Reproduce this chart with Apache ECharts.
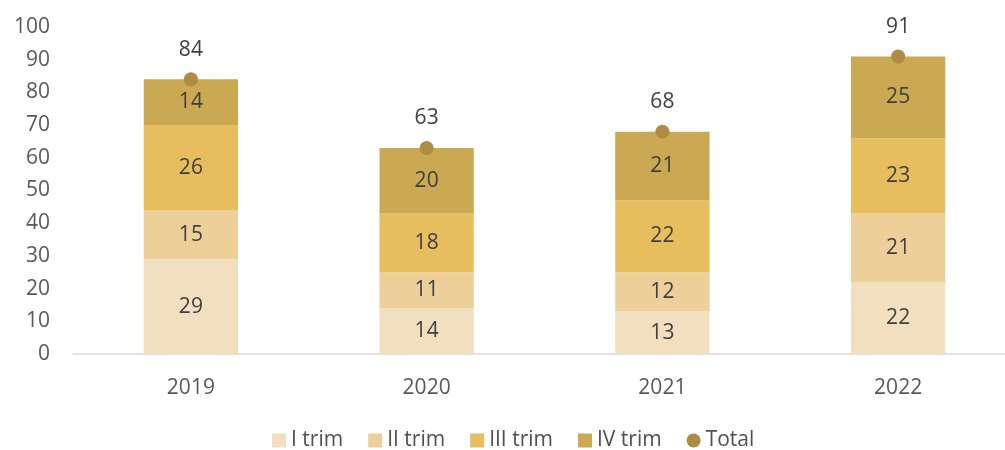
<!DOCTYPE html>
<html>
<head>
<meta charset="utf-8">
<script src="https://cdn.jsdelivr.net/npm/echarts@6/dist/echarts.min.js"></script>
<style>
  html, body { margin: 0; padding: 0; background: #fff; }
  #chart { width: 1005px; height: 450px; }
</style>
</head>
<body>
<div id="chart"></div>
<script>
const years = ['2019', '2020', '2021', '2022']
const trimI = [29, 14, 13, 22]
const trimII = [15, 11, 12, 21]
const trimIII = [26, 18, 22, 23]
const trimIV = [14, 20, 21, 25]
const totals = [84, 63, 68, 91]

const font = '"Open Sans", "Noto Sans", sans-serif'

// bar segment with value label inside
function barSeries(name, data, color) {
  return {
    name: name,
    type: 'bar',
    stack: 'total',
    barWidth: '40%',
    data: data,
    itemStyle: { color: color },
    label: {
      show: true,
      position: 'inside',
      color: '#404040',
      fontSize: 21,
      fontFamily: font
    }
  }
}

const myChart = echarts.init(document.getElementById('chart'))
myChart.setOption({
  animation: false,
  textStyle: { fontFamily: font },
  grid: {
    left: 73,
    right: -11,
    top: 27,
    bottom: 96,
    containLabel: false,
    outerBoundsMode: 'none'
  },
  legend: {
    top: 425,
    left: 267,
    itemWidth: 14,
    itemHeight: 14,
    itemGap: 25,
    textStyle: { color: '#505050', fontSize: 21, fontFamily: font },
    data: [
      { name: 'I trim', icon: 'rect' },
      { name: 'II trim', icon: 'rect' },
      { name: 'III trim', icon: 'rect' },
      { name: 'IV trim', icon: 'rect' },
      { name: 'Total', icon: 'circle' }
    ]
  },
  xAxis: {
    type: 'category',
    data: years,
    axisLine: { lineStyle: { color: '#d9d9d9', width: 1.5 } },
    axisTick: { show: false },
    axisLabel: { color: '#595959', fontSize: 21, margin: 24 }
  },
  yAxis: {
    type: 'value',
    min: 0,
    max: 100,
    interval: 10,
    axisLine: { show: false },
    axisTick: { show: false },
    splitLine: { show: false },
    axisLabel: { color: '#595959', fontSize: 21, margin: 23 }
  },
  series: [
    barSeries('I trim', trimI, '#F2DFBF'),
    barSeries('II trim', trimII, '#EDCF9A'),
    barSeries('III trim', trimIII, '#E6BE5E'),
    barSeries('IV trim', trimIV, '#CBA852'),
    {
      name: 'Total',
      type: 'scatter',
      data: totals,
      symbol: 'circle',
      symbolSize: 14,
      itemStyle: { color: '#AE8C44', opacity: 1 },
      label: {
        show: true,
        position: 'top',
        distance: 12,
        color: '#404040',
        fontSize: 21,
        fontFamily: font
      },
      z: 5
    }
  ]
})
</script>
</body>
</html>
